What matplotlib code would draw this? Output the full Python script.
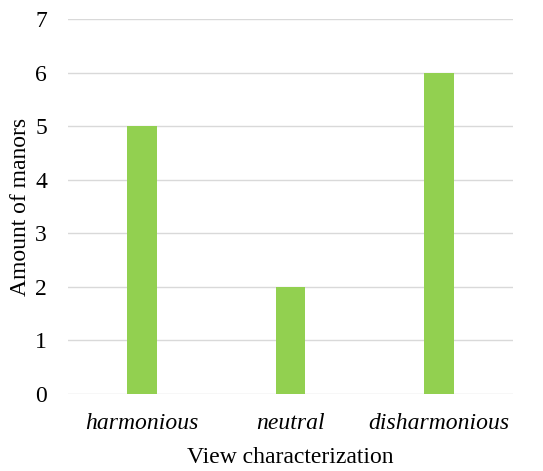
import matplotlib.pyplot as plt

# Chart data
categories = ["harmonious", "neutral", "disharmonious"]
manors = [5, 2, 6]
y_ticks = [0, 1, 2, 3, 4, 5, 6, 7]

plt.rcParams['font.family'] = ['Liberation Serif', 'DejaVu Serif']

fig = plt.figure(figsize=(5.43, 4.71), dpi=100)
ax = fig.add_axes([0.125, 0.1635, 0.82, 0.7962])

x = range(len(categories))
ax.bar(x, manors, width=0.2, color="#92D050", zorder=3)

ax.set_xlim(-0.5, len(categories) - 0.5)
ax.set_ylim(0, 7)
ax.set_yticks(y_ticks)
ax.set_xticks(list(x))
ax.set_xticklabels(categories, fontstyle="italic", fontsize=17)
ax.tick_params(axis="y", labelsize=17, length=0, pad=15)
ax.tick_params(axis="x", length=0, pad=14)

# Light horizontal gridlines, no frame
ax.grid(axis="y", color="#D9D9D9", linewidth=1, zorder=0)
for s in ax.spines.values():
	s.set_visible(False)

ax.set_xlabel("View characterization", fontsize=17, labelpad=9)
ax.set_ylabel("Amount of manors", fontsize=17, labelpad=3)

fig.savefig("out.png", dpi=100)
